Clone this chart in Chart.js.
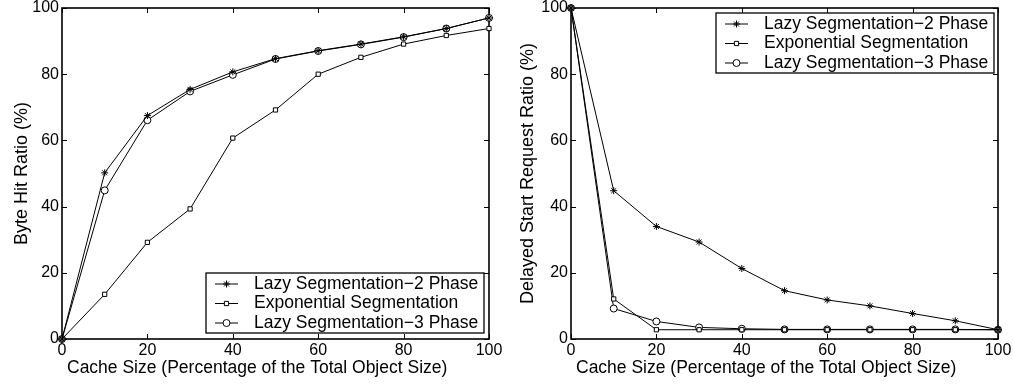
<!DOCTYPE html>
<html>
<head>
<meta charset="utf-8">
<script src="https://cdn.jsdelivr.net/npm/chart.js@4.4.1/dist/chart.umd.min.js"></script>
<style>
  html, body { margin: 0; padding: 0; background: #fff; }
  #wrap { position: relative; width: 1013px; height: 385px; }
  #leftBox { position: absolute; left: 0; top: 0; }
  #rightBox { position: absolute; left: 506px; top: 0; }
</style>
</head>
<body>
<div id="wrap">
  <div id="leftBox"><canvas id="hitChart" width="506" height="385"></canvas></div>
  <div id="rightBox"><canvas id="delayChart" width="507" height="385"></canvas></div>
</div>
<script>
// values
const cacheSize = [0, 10, 20, 30, 40, 50, 60, 70, 80, 90, 100];
const seriesNames = ["Lazy Segmentation\u22122 Phase", "Exponential Segmentation", "Lazy Segmentation\u22123 Phase"];

const hitLazy2 = [0, 50.2, 67.5, 75.4, 80.7, 84.7, 87.1, 89.1, 91.3, 93.8, 97];
const hitExp   = [0, 13.5, 29.2, 39.3, 60.7, 69.2, 80, 85.1, 89.1, 91.7, 93.8];
const hitLazy3 = [0, 44.9, 66.1, 74.8, 79.8, 84.6, 87, 89, 91.2, 93.8, 97];

const delayLazy2 = [100, 44.8, 34, 29.3, 21.3, 14.6, 11.8, 10, 7.7, 5.5, 2.8];
const delayExp   = [100, 12.1, 2.8, 2.8, 2.8, 2.8, 2.8, 2.8, 2.8, 2.8, 2.8];
const delayLazy3 = [100, 9.2, 5.3, 3.5, 3.1, 2.9, 2.9, 2.9, 2.9, 2.9, 2.8];

const tickValues = [0, 20, 40, 60, 80, 100];
const xTitle = "Cache Size (Percentage of the Total Object Size)";

const FONT = "'Liberation Sans', Arial, Helvetica, sans-serif";
const markers = ["star", "rect", "circle"];
const markerSize = [3.5, 3, 3.5];

function toPoints(ys) {
    return cacheSize.map((x, i) => ({ x: x, y: ys[i] }));
}

function makeDataset(label, ys, idx) {
    return {
        label: label,
        data: toPoints(ys),
        borderColor: "#000",
        borderWidth: 1,
        backgroundColor: idx === 0 ? "#000" : "#fff",
        pointStyle: markers[idx],
        pointRadius: markerSize[idx],
        pointBorderColor: "#000",
        pointBackgroundColor: idx === 0 ? "#000" : "#fff",
        pointBorderWidth: 1,
        tension: 0,
        clip: false
    };
}

// box frame with inward ticks on all four sides (matlab style)
const framePlugin = {
    id: "frame",
    beforeDatasetsDraw(chart) {
        const ctx = chart.ctx;
        const a = chart.chartArea;
        const xs = chart.scales.x, ys = chart.scales.y;
        ctx.save();
        ctx.strokeStyle = "#000";
        ctx.lineWidth = 1;
        ctx.beginPath();
        tickValues.forEach(v => {
            let px = Math.round(xs.getPixelForValue(v)) + 0.5;
            ctx.moveTo(px, a.bottom); ctx.lineTo(px, a.bottom - 5);
            ctx.moveTo(px, a.top); ctx.lineTo(px, a.top + 5);
            let py = Math.round(ys.getPixelForValue(v)) + 0.5;
            ctx.moveTo(a.left, py); ctx.lineTo(a.left + 5, py);
            ctx.moveTo(a.right, py); ctx.lineTo(a.right - 5, py);
        });
        ctx.stroke();
        ctx.lineWidth = 1.6;
        ctx.strokeRect(a.left, a.top, a.right - a.left, a.bottom - a.top);
        // x title sits a little left of centre in the original
        ctx.font = "17.5px " + FONT;
        ctx.fillStyle = "#000";
        ctx.textBaseline = "middle";
        ctx.textAlign = "left";
        ctx.fillText(xTitle, a.left + 5, 368);
        ctx.restore();
    }
};

// legend drawn inside the plot box
const boxLegendPlugin = {
    id: "boxLegend",
    afterDraw(chart, args, opts) {
        const ctx = chart.ctx;
        const a = chart.chartArea;
        const w = 278, h = 60;
        const x0 = a.right - opts.right - w;
        const y0 = opts.corner === "top" ? a.top + opts.top : a.bottom - opts.bottom - h;
        ctx.save();
        ctx.fillStyle = "#fff";
        ctx.fillRect(x0, y0, w, h);
        ctx.strokeStyle = "#000";
        ctx.lineWidth = 1.3;
        ctx.strokeRect(x0, y0, w, h);
        ctx.font = "17.5px " + FONT;
        ctx.textBaseline = "middle";
        chart.data.datasets.forEach((ds, i) => {
            const cy = y0 + 11 + i * 19.5;
            ctx.strokeStyle = "#000";
            ctx.lineWidth = 1;
            ctx.beginPath();
            ctx.moveTo(x0 + 9, cy);
            ctx.lineTo(x0 + 32, cy);
            ctx.stroke();
            ctx.fillStyle = ds.pointBackgroundColor;
            Chart.helpers.drawPoint(ctx, {
                pointStyle: ds.pointStyle,
                radius: ds.pointRadius,
                borderWidth: 1,
                rotation: 0
            }, x0 + 20.5, cy);
            ctx.fillStyle = "#000";
            ctx.fillText(ds.label, x0 + 48, cy);
        });
        ctx.restore();
    }
};

function makeChart(canvasId, yTitle, series, yWidth, rightPad, legendOpts) {
    const ctx = document.getElementById(canvasId).getContext("2d");
    return new Chart(ctx, {
        type: "line",
        data: {
            datasets: series.map((ys, i) => makeDataset(seriesNames[i], ys, i))
        },
        options: {
            responsive: false,
            animation: false,
            layout: { padding: { left: 0, right: rightPad, top: 8, bottom: 0 } },
            scales: {
                x: {
                    type: "linear",
                    min: 0, max: 100,
                    afterFit: s => { s.height = 46; s.paddingRight = 0; s.paddingLeft = 0; },
                    afterBuildTicks: s => { s.ticks = tickValues.map(v => ({ value: v })); },
                    grid: { display: false, drawTicks: false },
                    border: { display: false },
                    ticks: { color: "#000", padding: 2, maxRotation: 0, font: { family: FONT, size: 16 } }
                },
                y: {
                    type: "linear",
                    min: 0, max: 100,
                    afterFit: s => { s.width = yWidth; s.paddingTop = 0; s.paddingBottom = 0; },
                    afterBuildTicks: s => { s.ticks = tickValues.map(v => ({ value: v })); },
                    grid: { display: false, drawTicks: false },
                    border: { display: false },
                    ticks: { color: "#000", padding: 3, font: { family: FONT, size: 16 } },
                    title: {
                        display: true,
                        text: yTitle,
                        color: "#000",
                        font: { family: FONT, size: 18 },
                        padding: { top: 11, bottom: 0 }
                    }
                }
            },
            plugins: {
                legend: { display: false },
                tooltip: { enabled: false },
                boxLegend: legendOpts
            }
        },
        plugins: [framePlugin, boxLegendPlugin]
    });
}

makeChart("hitChart", "Byte Hit Ratio (%)", [hitLazy2, hitExp, hitLazy3], 62, 17,
    { corner: "bottom", right: 5, bottom: 6 });
makeChart("delayChart", "Delayed Start Request Ratio (%)", [delayLazy2, delayExp, delayLazy3], 65, 15,
    { corner: "top", right: 4, top: 5 });
</script>
</body>
</html>
